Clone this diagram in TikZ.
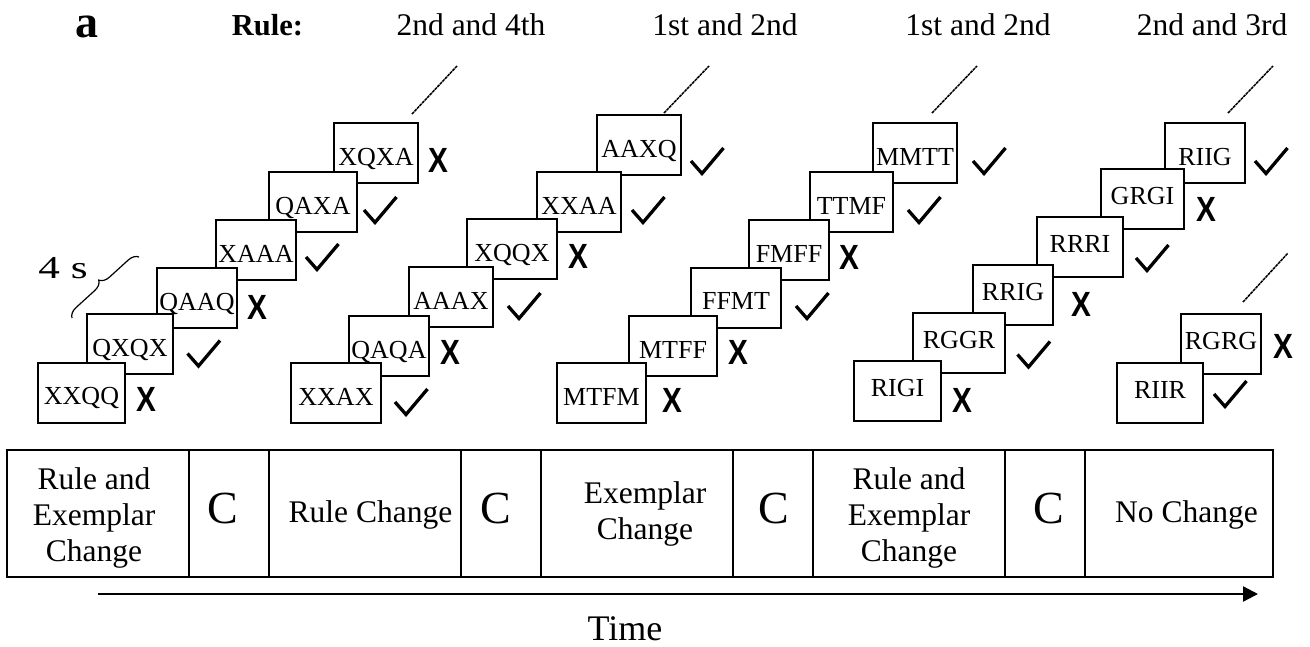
\documentclass[tikz,border=0pt]{standalone}
\usepackage{fontspec}
\setmainfont{Liberation Serif}
\newfontfamily\marksans{Liberation Sans}
\usetikzlibrary{arrows.meta,decorations.pathreplacing}

\tikzset{
  card/.style={draw, line width=2pt, fill=white, minimum height=60pt, inner sep=0pt,
    text height=24pt, text depth=0pt, font=\fontsize{26}{28}\selectfont},
  cardlow/.style={card, text height=11pt},
  cross/.style={inner sep=0pt, xscale=0.85, font=\marksans\bfseries\fontsize{35}{36}\selectfont},
  checkmark/.pic={\draw[line width=3.3pt, line join=miter] (-16,0) -- (-5,12.5) -- (16.5,-13);},
  guide/.style={line width=1.5pt, dash pattern=on 3pt off 0.7pt},
  heading/.style={anchor=base, inner sep=0pt, font=\fontsize{31.5}{34}\selectfont},
  cell/.style={draw, line width=2pt, minimum height=127pt, inner sep=0pt},
  celltext/.style={inner sep=0pt, align=center, font=\fontsize{31.5}{36}\selectfont},
  bigC/.style={anchor=base, inner sep=0pt, font=\fontsize{46}{48}\selectfont},
}

\begin{document}
\begin{tikzpicture}[x=1pt, y=-1pt]
\useasboundingbox (0,0) rectangle (1310,646);

% headings
\node[anchor=base, inner sep=0pt, font=\bfseries\fontsize{46}{48}\selectfont] (panel) at (87,37) {a};
\node[anchor=base, inner sep=0pt, font=\bfseries\fontsize{30.5}{33}\selectfont] (rulelbl) at (267.5,35) {Rule:};
\node[heading] (r1) at (471,35) {2nd and 4th};
\node[heading] (r2) at (725,35) {1st and 2nd};
\node[heading] (r3) at (978,35) {1st and 2nd};
\node[heading] (r4) at (1212,35) {2nd and 3rd};

% guide strokes above each staircase
\coordinate (l1s) at (412,114); \coordinate (l1e) at (457,66);
\coordinate (l2s) at (664,113); \coordinate (l2e) at (709,66);
\coordinate (l3s) at (932,113); \coordinate (l3e) at (977,66);
\coordinate (l4s) at (1228,113); \coordinate (l4e) at (1273,66);
\coordinate (l5s) at (1243,302); \coordinate (l5e) at (1288,253);
\foreach \i in {1,...,5} \draw[guide] (l\i s) -- (l\i e);

% staircase 1 (upper cards first, lower cards in front)
\node[card, minimum width=84pt] (g1f) at (376,153) {XQXA};
\node[card, minimum width=88pt] (g1e) at (313,202) {QAXA};
\node[card, minimum width=80pt] (g1d) at (256,250) {XAAA};
\node[card, minimum width=80pt] (g1c) at (197,298) {QAAQ};
\node[card, minimum width=86pt] (g1b) at (130,344) {QXQX};
\node[card, minimum width=87pt] (g1a) at (81.5,392.5) {XXQQ};

% staircase 2
\node[card, minimum width=84pt] (g2f) at (639,145) {AAXQ};
\node[card, minimum width=84pt] (g2e) at (579,202) {XXAA};
\node[card, minimum width=90pt] (g2d) at (512,249) {XQQX};
\node[card, minimum width=84pt] (g2c) at (451,297) {AAAX};
\node[card, minimum width=80pt] (g2b) at (389,346) {QAQA};
\node[card, minimum width=90pt] (g2a) at (336,393) {XXAX};

% staircase 3
\node[card, minimum width=84pt] (g3f) at (915,153) {MMTT};
\node[card, minimum width=83pt] (g3e) at (851.5,202) {TTMF};
\node[card, minimum width=80pt] (g3d) at (789,250) {FMFF};
\node[card, minimum width=90pt] (g3c) at (736,297.5) {FFMT};
\node[card, minimum width=88pt] (g3b) at (673,346) {MTFF};
\node[card, minimum width=89pt] (g3a) at (601.5,393) {MTFM};

% staircase 4
\node[card, minimum width=80pt] (g4f) at (1205,153) {RIIG};
\node[cardlow, minimum width=83pt] (g4e) at (1142.5,198.5) {GRGI};
\node[cardlow, minimum width=86pt] (g4d) at (1080,247) {RRRI};
\node[cardlow, minimum width=80pt] (g4c) at (1013,295) {RRIG};
\node[cardlow, minimum width=92pt] (g4b) at (959,343) {RGGR};
\node[cardlow, minimum width=87pt] (g4a) at (897.5,391) {RIGI};

% staircase 5
\node[cardlow, minimum width=80pt] (g5b) at (1221,344) {RGRG};
\node[cardlow, minimum width=86pt] (g5a) at (1160,393) {RIIR};

% answers
\node[cross] (x1a) at (146.5,399.5) {X};
\pic (k1b) at (203.5,353.5) {checkmark};
\node[cross] (x1c) at (257,307) {X};
\pic (k1d) at (322,257) {checkmark};
\pic (k1e) at (380,210) {checkmark};
\node[cross] (x1f) at (438,160) {X};

\pic (k2a) at (411,402) {checkmark};
\node[cross] (x2b) at (450,352) {X};
\pic (k2c) at (524,306) {checkmark};
\node[cross] (x2d) at (578,256) {X};
\pic (k2e) at (648,210) {checkmark};
\pic (k2f) at (707,161) {checkmark};

\node[cross] (x3a) at (672,400) {X};
\node[cross] (x3b) at (738,352) {X};
\pic (k3c) at (812,306) {checkmark};
\node[cross] (x3d) at (849,257) {X};
\pic (k3e) at (924,210) {checkmark};
\pic (k3f) at (989,161) {checkmark};

\node[cross] (x4a) at (962,400) {X};
\pic (k4b) at (1033.5,354.5) {checkmark};
\node[cross] (x4c) at (1081,304) {X};
\pic (k4d) at (1152,258) {checkmark};
\node[cross] (x4e) at (1206,209) {X};
\pic (k4f) at (1271,161) {checkmark};

\pic (k5a) at (1230,394) {checkmark};
\node[cross] (x5b) at (1283,346) {X};

% trial duration brace
\coordinate (bs) at (72,318);
\coordinate (be) at (139,257);
\draw[line width=1.2pt, decorate, decoration={brace, amplitude=10pt}] (bs) -- (be);
\node[anchor=base, inner sep=0pt, xscale=1.35, font=\fontsize{32}{34}\selectfont] (dur) at (63,278) {4 s};

% block sequence
\node[cell, minimum width=182pt] (c1) at (98,513.5) {};
\node[cell, minimum width=80pt]  (c2) at (229,513.5) {};
\node[cell, minimum width=192pt] (c3) at (365,513.5) {};
\node[cell, minimum width=80pt]  (c4) at (501,513.5) {};
\node[cell, minimum width=192pt] (c5) at (637,513.5) {};
\node[cell, minimum width=80pt]  (c6) at (773,513.5) {};
\node[cell, minimum width=192pt] (c7) at (909,513.5) {};
\node[cell, minimum width=80pt]  (c8) at (1045,513.5) {};
\node[cell, minimum width=188pt] (c9) at (1179,513.5) {};

\node[celltext] (t1) at (94,517.7) {Rule and\\Exemplar\\Change};
\node[bigC] (t2) at (223,523) {C};
\node[celltext, anchor=base] (t3) at (370.5,522) {Rule Change};
\node[bigC] (t4) at (495.5,523) {C};
\node[celltext] (t5) at (645,514.2) {Exemplar\\Change};
\node[bigC] (t6) at (774,523) {C};
\node[celltext] (t7) at (909,517.7) {Rule and\\Exemplar\\Change};
\node[bigC] (t8) at (1048.5,523) {C};
\node[celltext, anchor=base] (t9) at (1186.5,522) {No Change};

% time axis
\coordinate (ax0) at (98,594);
\coordinate (ax1) at (1258,594);
\draw[line width=2.3pt, -{Triangle[length=15pt,width=15pt]}] (ax0) -- (ax1);
\node[anchor=base, inner sep=0pt, font=\fontsize{36}{38}\selectfont] (time) at (625,640) {Time};
\end{tikzpicture}
\end{document}
